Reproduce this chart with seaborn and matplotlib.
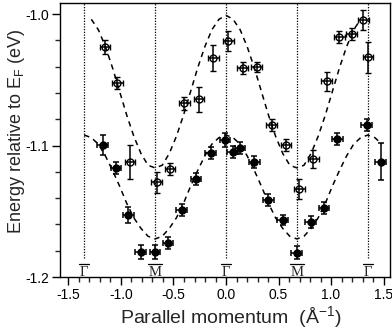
import numpy as np
import matplotlib
matplotlib.use("Agg")
import matplotlib.pyplot as plt
import matplotlib.transforms as mtransforms
import seaborn as sns

# upper band (open circles)
open_k = [-1.152, -1.035, -0.914, -0.660, -0.533, -0.397, -0.257, -0.121, 0.022, 0.159,
          0.292, 0.435, 0.571, 0.698, 0.832, 0.959, 1.079, 1.197, 1.308, 1.350]
open_e = [-1.0253, -1.0527, -1.1128, -1.1280, -1.1180, -1.0680, -1.0649, -1.0332, -1.0205, -1.0413,
          -1.0400, -1.0844, -1.0996, -1.1330, -1.1105, -1.0510, -1.0177, -1.0152, -1.0046, -1.0330]
open_err = [0.0053, 0.0046, 0.0130, 0.0080, 0.0046, 0.0046, 0.0095, 0.0099, 0.0076, 0.0046,
            0.0038, 0.0046, 0.0046, 0.0076, 0.0068, 0.0072, 0.0046, 0.0046, 0.0076, 0.0118]

# lower band (filled circles)
fill_k = [-1.174, -1.048, -0.930, -0.813, -0.676, -0.550, -0.422, -0.286, -0.146, -0.010, 0.064,
          0.133, 0.270, 0.403, 0.540, 0.673, 0.806, 0.933, 1.060, 1.340, 1.473]
fill_e = [-1.0996, -1.1174, -1.1529, -1.1808, -1.1808, -1.1744, -1.1490, -1.1257, -1.1060, -1.0958, -1.1047,
          -1.1017, -1.1128, -1.1414, -1.1567, -1.1815, -1.1584, -1.1473, -1.0950, -1.0844, -1.1123]
fill_err = [0.0074, 0.0046, 0.0060, 0.0053, 0.0053, 0.0046, 0.0046, 0.0046, 0.0046, 0.0053, 0.0046,
            0.0046, 0.0046, 0.0046, 0.0038, 0.0050, 0.0046, 0.0046, 0.0046, 0.0046, 0.0140]
k_err = 0.05

# dashed fit curves
upper_k = [-1.2825, -1.215, -1.1475, -1.08, -1.0125, -0.945, -0.8775, -0.81, -0.7425, -0.675,
           -0.6075, -0.54, -0.4725, -0.405, -0.3375, -0.27, -0.2025, -0.135, -0.0675, 0.0,
           0.0675, 0.135, 0.2025, 0.27, 0.3375, 0.405, 0.4725, 0.54, 0.6075, 0.675,
           0.7425, 0.81, 0.8775, 0.945, 1.0125, 1.08, 1.1475, 1.215, 1.2825]
upper_e = [-1.004, -1.012, -1.025, -1.041, -1.059, -1.077, -1.093, -1.106, -1.115, -1.117,
           -1.115, -1.106, -1.093, -1.077, -1.059, -1.041, -1.025, -1.012, -1.004, -1.001,
           -1.004, -1.012, -1.025, -1.041, -1.059, -1.077, -1.093, -1.106, -1.115, -1.117,
           -1.115, -1.106, -1.093, -1.077, -1.059, -1.041, -1.025, -1.012, -1.004]
lower_k = [-1.35, -1.2825, -1.215, -1.1475, -1.08, -1.0125, -0.945, -0.8775, -0.81, -0.7425, -0.675,
           -0.6075, -0.54, -0.4725, -0.405, -0.3375, -0.27, -0.2025, -0.135, -0.0675, 0.0,
           0.0675, 0.135, 0.2025, 0.27, 0.3375, 0.405, 0.4725, 0.54, 0.6075, 0.675,
           0.7425, 0.81, 0.8775, 0.945, 1.0125, 1.08, 1.1475, 1.215, 1.2825, 1.35,
           1.4175, 1.485]
lower_e = [-1.092, -1.094, -1.099, -1.108, -1.119, -1.131, -1.144, -1.155, -1.163, -1.169, -1.171,
           -1.169, -1.163, -1.155, -1.144, -1.131, -1.119, -1.108, -1.099, -1.094, -1.092,
           -1.094, -1.099, -1.108, -1.119, -1.131, -1.144, -1.155, -1.163, -1.169, -1.171,
           -1.169, -1.163, -1.155, -1.144, -1.131, -1.119, -1.108, -1.099, -1.094, -1.092,
           -1.094, -1.099]

sym_k = [-1.35, -0.675, 0.0, 0.675, 1.35]
sym_labels = ["Γ", "M", "Γ", "M", "Γ"]

sns.set_style("ticks")
plt.rcParams["font.family"] = ["Liberation Sans", "DejaVu Sans"]
plt.rcParams["mathtext.fontset"] = "custom"
plt.rcParams["mathtext.rm"] = "Liberation Sans"
plt.rcParams["mathtext.it"] = "Liberation Sans:italic"
plt.rcParams["mathtext.sf"] = "Liberation Sans"

fig = plt.figure(figsize=(3.92, 3.33), dpi=100)
ax = fig.add_axes([0.153, 0.168, 0.842, 0.823])
blend = mtransforms.blended_transform_factory(ax.transData, ax.transAxes)

# high-symmetry points: dotted guides and overlined labels
for k, lab in zip(sym_k, sym_labels):
    ax.plot([k, k], [-1.1856, -0.99], color="k", lw=0.9, ls=(0, (1, 1.2)), zorder=1)
    ax.text(k, 0.004, lab, transform=blend, ha="center", va="baseline", fontsize=10.5,
            family="Liberation Serif", zorder=3)
    half = 0.05 if lab == "Γ" else 0.07
    ax.plot([k - half, k + half], [0.048, 0.048], transform=blend, color="k", lw=0.9, zorder=3)

sns.lineplot(x=upper_k, y=upper_e, ax=ax, color="k", lw=1.1, sort=False, estimator=None)
sns.lineplot(x=lower_k, y=lower_e, ax=ax, color="k", lw=1.1, sort=False, estimator=None)
for line in ax.get_lines()[-2:]:
    line.set_dashes((3.5, 3))

ax.errorbar(open_k, open_e, yerr=open_err, xerr=k_err, fmt="o", ms=5, mfc="none", mec="k",
            mew=1.0, ecolor="k", elinewidth=1.1, capsize=2, capthick=1.1, zorder=4)
ax.errorbar(fill_k, fill_e, yerr=fill_err, xerr=k_err, fmt="o", ms=5, mfc="k", mec="k",
            ecolor="k", elinewidth=1.1, capsize=2, capthick=1.1, zorder=4)

ax.set_xlim(-1.581, 1.562)
ax.set_ylim(-1.2, -0.9916)
ax.set_xticks([-1.5, -1.0, -0.5, 0.0, 0.5, 1.0, 1.5])
ax.set_xticks(np.arange(-1.5, 1.55, 0.1), minor=True)
ax.set_yticks([-1.2, -1.1, -1.0])
ax.set_yticks(np.arange(-1.2, -0.99, 0.02), minor=True)
ax.xaxis.set_major_formatter(matplotlib.ticker.FormatStrFormatter("%.1f"))
ax.yaxis.set_major_formatter(matplotlib.ticker.FormatStrFormatter("%.1f"))
ax.tick_params(which="major", length=6, width=1.0, labelsize=10, pad=2, colors="k")
ax.tick_params(which="minor", length=3.5, width=1.0)
for s in ax.spines.values():
    s.set_linewidth(1.0)
    s.set_color("k")

ax.set_xlabel(r"Parallel momentum  (Å$^{-1}$)", fontsize=14)
ax.set_ylabel(r"Energy relative to E$_{\mathrm{F}}$ (eV)", fontsize=13)
ax.xaxis.set_label_coords(0.518, -0.10)
ax.yaxis.set_label_coords(-0.10, 0.533)

fig.savefig("out.png", dpi=100)
